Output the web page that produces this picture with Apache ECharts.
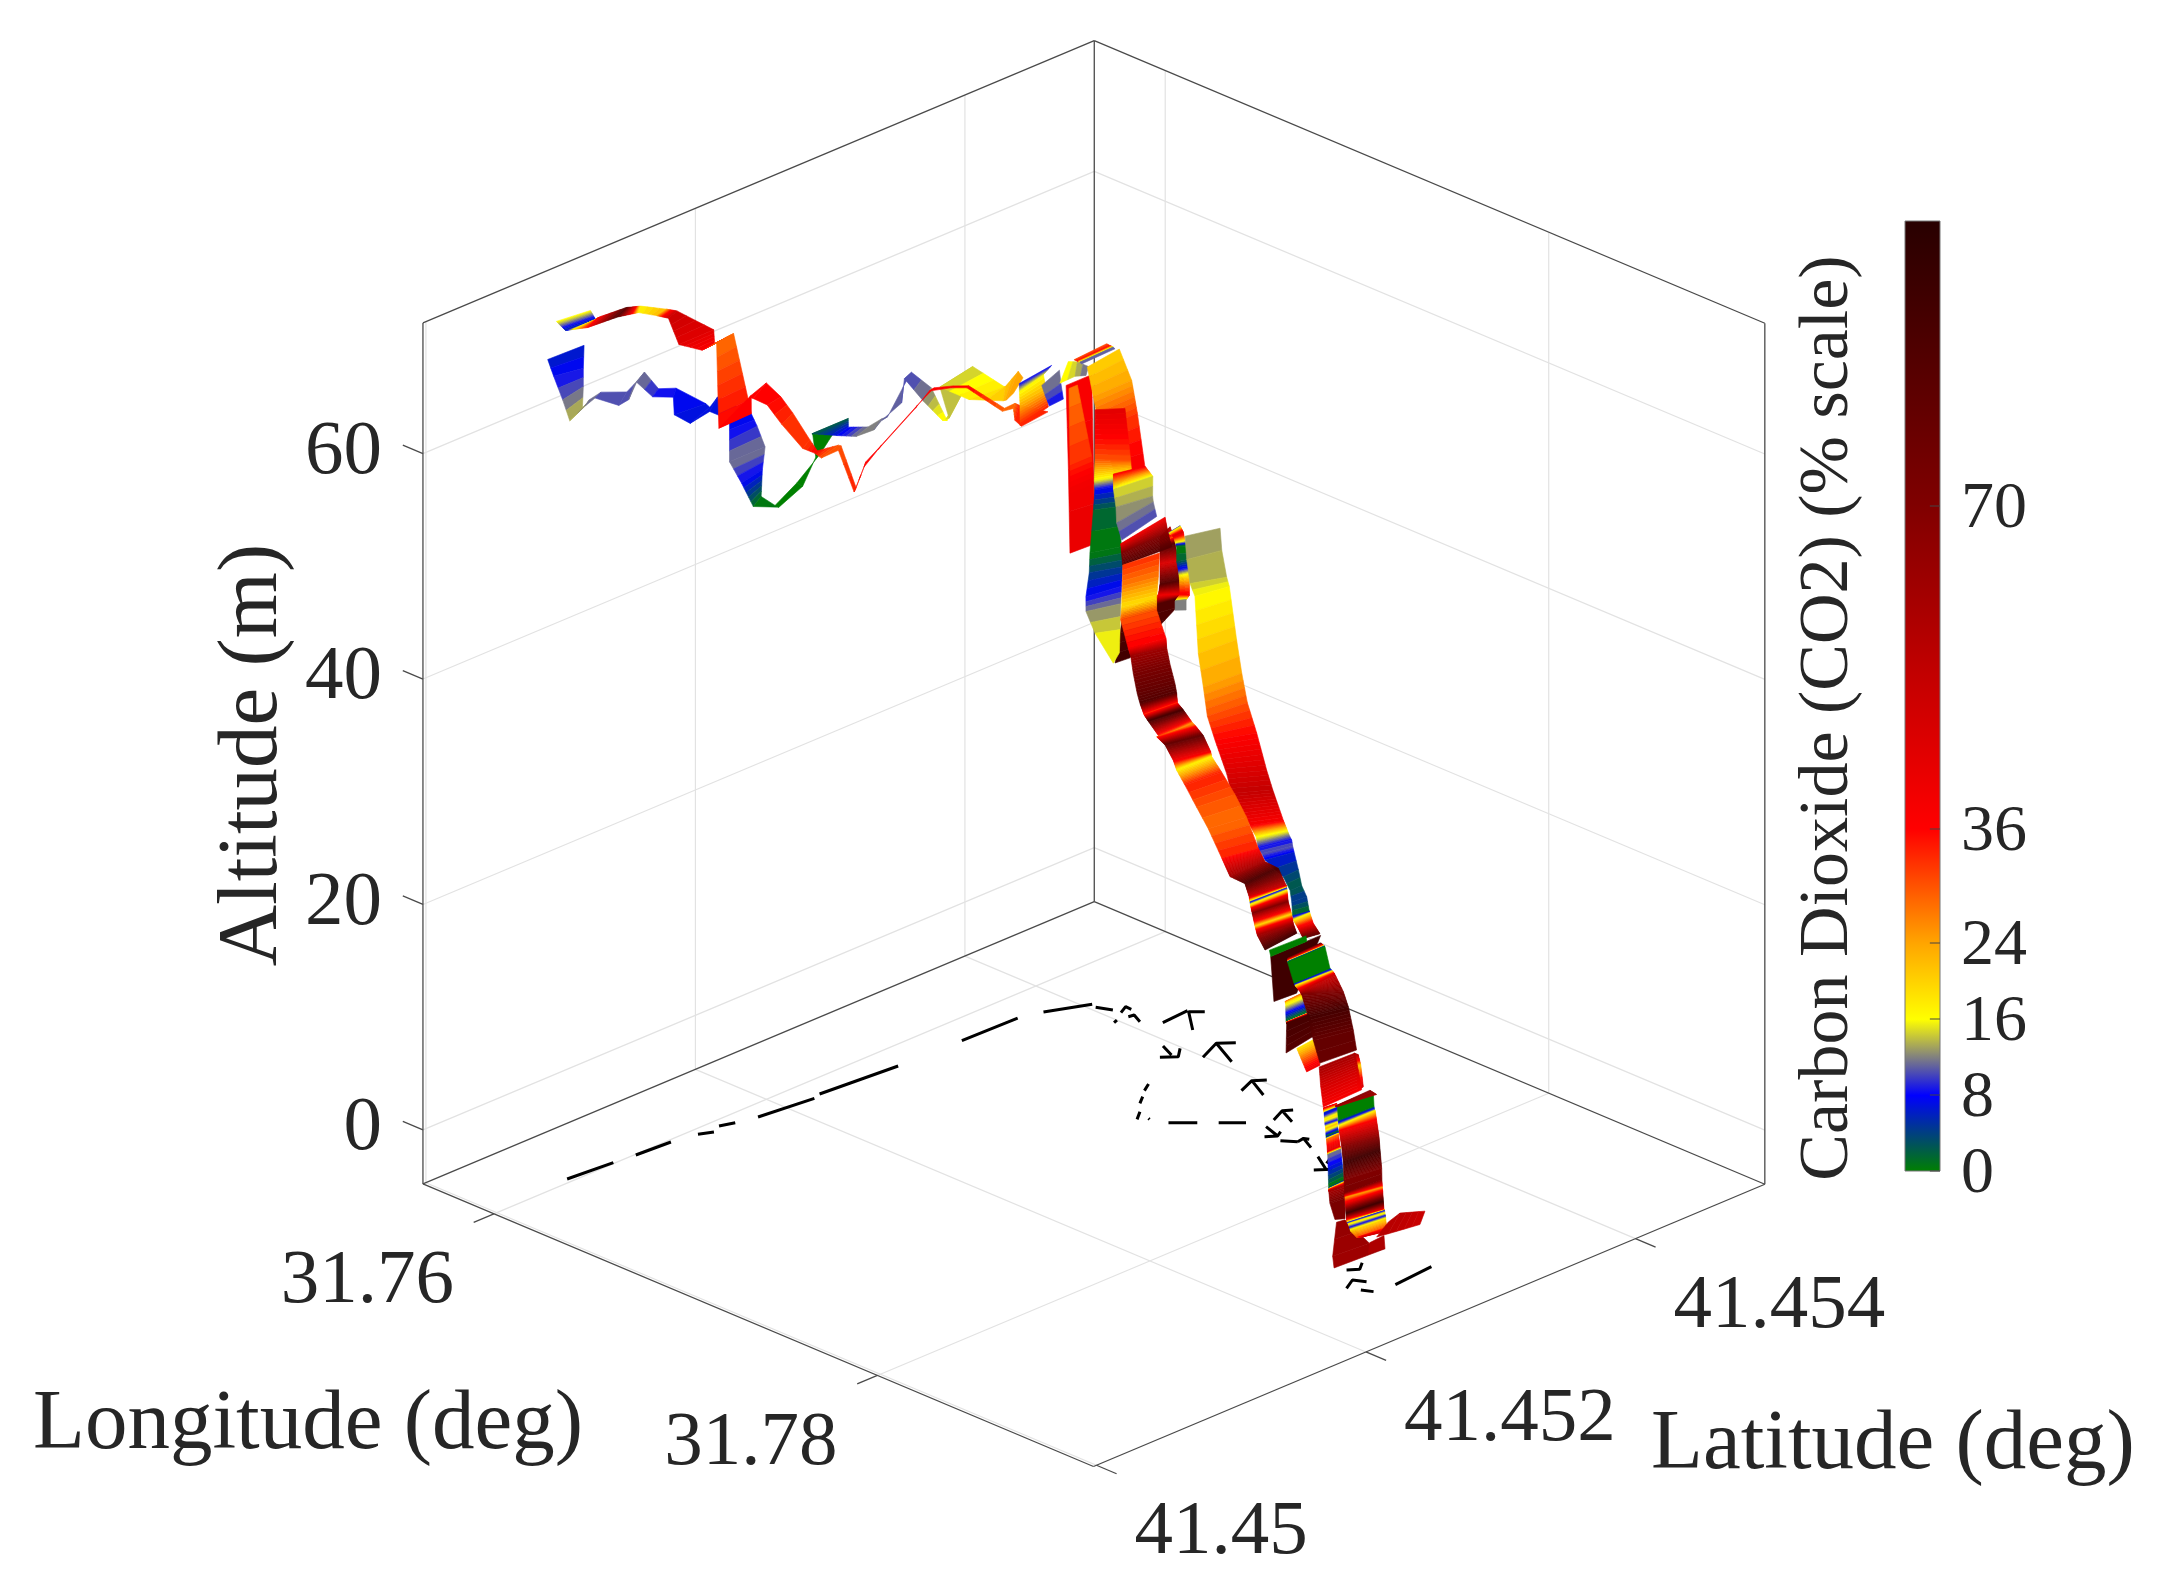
<!DOCTYPE html>
<html>
<head>
<meta charset="utf-8">
<style>html,body{margin:0;background:#fff}#main{width:2164px;height:1591px}</style>
<script src="https://cdn.jsdelivr.net/npm/echarts@6/dist/echarts.min.js"></script>
</head>
<body>
<div id="main"></div>
<script>
const lonRange = [31.7563, 31.79127]
const latRange = [41.449978, 41.45496]
const altRange = [-4.8, 71.6]
const altTicks = [0, 20, 40, 60]
const lonTicks = [31.76, 31.78]
const latTicks = [41.45, 41.452, 41.454]
const co2Ticks = [0, 8, 16, 24, 36, 70]
const co2Stops = [[0,'#008000'],[8,'#0000ff'],[12,'#808080'],[16,'#ffff00'],[24,'#ffa500'],[36,'#ff0000'],[70,'#800000'],[100,'#280000']]

// ribbon stations, null ends a strand. each station spans latA/altA to latB/altB at one longitude
const stationLon = [
  31.75965,31.75966,31.75968,31.75969,31.75974,31.75978,31.75988,31.75992,31.75995,31.76002,31.76009,31.76016,31.7602,31.76025,31.76036,31.76037,31.76039,31.76041,31.76043,31.76051,31.7606,31.76068,31.7607,31.76073,31.76078,31.76086,31.76092,31.76095,31.76102,31.76105,31.76113,31.7612,31.76125,31.76124,31.76137,31.76144,31.76147,31.76151,null,
  31.75968,31.75971,31.75976,31.75988,31.75995,31.76004,31.76009,31.76018,31.76023,31.7603,31.76034,31.7604,31.76044,31.7605,31.76055,31.76063,31.76067,31.76073,31.76077,31.76083,31.76087,31.76093,31.76108,31.76114,31.76123,31.76129,31.76144,31.76148,31.76149,31.76175,null,
  31.76174,31.76172,31.7617,31.76176,null,
  31.76198,31.76201,31.76206,null,
  31.76217,31.76235,31.76251,null,
  31.76255,31.76265,31.76274,31.7628,null,
  31.76261,31.76266,31.7627,null,
  31.76246,31.76266,31.76269,null,
  31.76265,31.76296,31.76317,31.76355,null,
  31.76607,31.77032,31.77197,31.77197,31.7719,31.7718,31.7717,31.77149,null,
  31.76445,31.76482,31.76484,31.76391,31.76385,31.76391,31.76393,31.76365,31.76359,31.76413,31.76527,null,
  31.76353,31.76366,31.7637,31.76372,31.76387,null,
  31.76505,31.76519,31.76529,31.76532,31.76536,31.7654,31.76541,31.76527,31.76527,null,
  31.76867,31.76894,31.76922,null,
  31.76695,31.76711,31.7675,31.76786,31.76836,31.76882,31.76926,31.77004,31.77103,31.77153,31.77281,31.77325,31.77339,31.77354,31.77373,31.77394,31.77506,31.77557,31.77591,31.77609,31.77616,31.77661,31.77729,null,
  31.76844,31.76835,31.7682,31.76814,31.76922,31.76941,31.76979,31.77036,31.77064,31.77094,31.77159,31.77209,31.77208,31.7723,31.77251,31.77257,31.77282,31.77315,31.77346,31.7738,31.77405,31.77488,31.77523,31.77528,31.77531,31.77539,31.77557,31.77569,31.77603,null,
  31.7772,31.77638,null,
  31.77657,31.77665,null,
  31.77701,31.77708,31.77725,31.77738,31.77758,null,
  31.77807,31.77859,null,
  31.78661,31.7867,31.78679,null,
  31.77642,31.77667,31.77733,31.77756,31.77797,31.77855,31.77963,31.78107,31.78251,null,
  31.78217,31.78285,31.78371,null,
  31.78272,31.78289,31.78297,31.78301,31.7831,31.78327,31.78339,31.78365,31.78378,31.78433,31.78446,31.78462,31.78526,null,
  31.78547,31.78699,31.78733,null,
  31.78802,31.78801,null,
  31.78658,31.78661,31.78662,31.78665,31.78668,31.78677,31.78683,31.78687,31.78689,31.7869,31.78692,31.78694,31.78697,31.78699,31.78702,31.78705,31.78708,31.78721,31.78734,null,
  31.78647,31.78663,null,
  31.78764,31.78809,31.7889,null
]
const stationLatA = [
  41.450427,41.45047,41.450534,41.450585,41.450693,41.45076,41.450922,41.45099,41.451044,41.451153,41.451297,41.451294,41.451406,41.451544,41.451675,41.451674,41.451671,41.451757,41.451842,41.452021,41.452184,41.45227,41.452244,41.452234,41.452409,41.452544,41.452667,41.452721,41.452858,41.452875,41.453005,41.453135,41.453178,41.453111,41.453308,41.453553,41.453572,41.453619,null,
  41.450487,41.45055,41.45071,41.450908,41.451059,41.451178,41.45126,41.451325,41.451489,41.451588,41.451599,41.451816,41.45184,41.451935,41.452036,41.45218,41.452262,41.452304,41.452425,41.452533,41.452601,41.452695,41.452952,41.453046,41.453196,41.453304,41.453547,41.453623,41.453633,41.453644,null,
  41.453635,41.453637,41.453636,41.453627,null,
  41.453762,41.453781,41.453807,null,
  41.45387,41.453956,41.454015,null,
  41.45392,41.453931,41.453937,41.453941,null,
  41.453853,41.453863,41.453869,null,
  41.453896,41.453875,41.453876,null,
  41.454005,41.454005,41.454025,41.454081,null,
  41.453724,41.45318,41.453206,41.453218,41.453228,41.453242,41.453257,41.453287,null,
  41.453806,41.453753,41.453745,41.453882,41.453879,41.453845,41.453837,41.453852,41.453861,41.453852,41.453825,null,
  41.454073,41.454055,41.454068,41.45407,41.454087,null,
  41.454264,41.454281,41.454292,41.454288,41.454294,41.454297,41.4543,41.454283,41.454283,null,
  41.453396,41.453364,41.453332,null,
  41.454118,41.454108,41.454077,41.454062,41.454016,41.453988,41.453955,41.453901,41.453847,41.453812,41.453767,41.453749,41.453738,41.453724,41.453722,41.453717,41.453694,41.453671,41.453635,41.453615,41.453611,41.453584,41.453524,null,
  41.453444,41.453453,41.45347,41.453471,41.453374,41.453365,41.45333,41.453278,41.453259,41.453246,41.453185,41.453201,41.453178,41.453208,41.45324,41.453256,41.453283,41.453322,41.453364,41.453415,41.453441,41.453434,41.453415,41.453415,41.453415,41.453416,41.453411,41.453411,41.45342,null,
  41.453295,41.453436,null,
  41.453375,41.453374,null,
  41.453428,41.453423,41.453402,41.453388,41.453355,null,
  41.453365,41.453364,null,
  41.452574,41.452577,41.45258,null,
  41.453532,41.453496,41.45345,41.453426,41.453403,41.453333,41.453229,41.453061,41.452905,null,
  41.452948,41.452862,41.452759,null,
  41.452901,41.452882,41.452875,41.452871,41.452864,41.452842,41.452829,41.452798,41.452782,41.452711,41.452693,41.452679,41.452625,null,
  41.452607,41.452362,41.452324,null,
  41.452492,41.452482,null,
  41.452455,41.452458,41.452459,41.452457,41.452455,41.45246,41.452465,41.452463,41.452465,41.452466,41.452466,41.452468,41.452469,41.45247,41.452474,41.452478,41.452482,41.452508,41.452539,null,
  41.452454,41.452443,null,
  41.452596,41.452618,41.452738,null
]
const stationAltA = [
  68.5,66.8,64.4,62.3,63.1,63.5,62.1,62.3,63.6,61.8,61.1,59.6,58.3,58.7,57.4,55.6,53.7,51.4,48.9,48.0,49.1,51.3,53.5,53.6,52.6,51.9,51.9,52.5,53.4,55.5,52.9,50.6,50.6,53.7,51.7,50.4,50.4,50.8,null,
  71.6,70.5,70.0,70.0,69.7,68.9,68.3,65.7,64.4,64.6,57.0,58.7,58.5,57.5,55.3,52.5,51.7,51.1,51.2,47.0,48.9,50.0,52.5,53.6,53.2,52.7,49.5,49.4,48.3,47.9,null,
  48.0,50.0,51.0,51.8,null,
  51.1,50.2,49.1,null,
  50.9,51.2,51.1,null,
  53.0,52.9,52.8,52.7,null,
  51.1,43.6,36.2,null,
  50.5,43.9,41.5,null,
  52.0,49.6,46.7,42.8,null,
  29.6,39.8,42.5,43.4,45.1,46.5,46.7,46.9,null,
  50.5,46.6,44.8,42.6,40.8,37.2,35.5,33.1,31.7,30.2,28.5,null,
  42.8,41.6,40.0,38.6,37.1,null,
  37.7,37.4,36.5,35.2,34.5,33.7,32.3,31.7,30.9,null,
  43.7,43.2,42.5,null,
  39.5,37.6,35.9,35.1,30.6,28.1,26.0,24.7,22.7,21.5,19.8,19.2,18.8,18.5,18.2,17.8,17.2,16.5,15.9,15.0,14.6,14.3,14.2,null,
  41.4,39.4,37.4,36.2,34.9,34.4,33.3,32.2,31.6,30.9,31.1,29.9,30.1,29.4,28.0,27.1,25.8,23.9,22.0,19.4,17.8,17.8,17.0,16.5,16.2,15.6,14.6,13.9,12.8,null,
  13.7,8.4,null,
  13.4,12.9,null,
  8.9,8.8,7.4,7.4,5.1,null,
  5.8,4.1,null,
  15.5,14.3,12.3,null,
  11.8,11.8,10.6,10.7,10.6,11.1,10.4,10.2,10.0,null,
  9.2,8.4,7.7,null,
  6.2,5.9,5.4,5.1,4.8,4.3,4.2,3.5,3.4,1.2,1.1,0.2,-0.5,null,
  -0.5,-1.2,-1.8,null,
  0.1,-0.8,null,
  11.4,10.1,9.9,9.6,9.2,7.9,6.4,5.0,3.8,3.4,2.9,2.0,1.5,1.2,1.1,0.8,0.5,-0.1,-0.1,null,
  11.3,11.4,null,
  -0.2,0.3,1.1,null
]
const stationLatB = [
  41.450697,41.45069,41.450687,41.450679,41.450723,41.450804,41.450981,41.451034,41.451103,41.451197,41.451317,41.451529,41.451552,41.451603,41.451837,41.451879,41.451935,41.451912,41.4519,41.451992,41.45214,41.4523,41.452391,41.452504,41.452497,41.452632,41.452725,41.452765,41.452872,41.452928,41.453063,41.453171,41.453304,41.453355,41.453572,41.45357,41.45366,41.45369,null,
  41.45074,41.450776,41.450792,41.450981,41.451074,41.451252,41.451325,41.451584,41.451583,41.451714,41.45184,41.451831,41.451937,41.452037,41.452118,41.452233,41.452283,41.45243,41.452445,41.452548,41.452615,41.452724,41.452967,41.453084,41.45321,41.453319,41.453562,41.453635,41.453663,41.453841,null,
  41.453845,41.45383,41.453814,41.453867,null,
  41.453893,41.4539,41.453911,null,
  41.453932,41.453974,41.454033,null,
  41.454162,41.454178,41.454185,41.454189,null,
  41.454043,41.454048,41.454054,null,
  41.453958,41.454036,41.454044,null,
  41.454242,41.45429,41.454302,41.454304,null,
  41.453835,41.453663,41.453404,41.453392,41.453364,41.453353,41.453356,41.453361,null,
  41.454028,41.454018,41.454022,41.454043,41.454057,41.45408,41.454084,41.454117,41.454119,41.454037,41.45387,null,
  41.454308,41.454347,41.45434,41.454342,41.454346,null,
  41.454351,41.454356,41.454361,41.454368,41.454369,41.454371,41.45437,41.454365,41.454365,null,
  41.453725,41.45371,41.453696,null,
  41.454378,41.454368,41.454349,41.454317,41.4543,41.454273,41.454252,41.45421,41.454144,41.454117,41.454014,41.453981,41.453975,41.453972,41.453952,41.453933,41.453805,41.453757,41.453746,41.453739,41.453734,41.453695,41.453648,null,
  41.453716,41.453721,41.453729,41.453738,41.453654,41.453632,41.453602,41.453558,41.453531,41.453494,41.453445,41.453443,41.453462,41.453492,41.453517,41.453516,41.453555,41.453606,41.453648,41.453687,41.453701,41.453682,41.45369,41.453688,41.453687,41.453683,41.453683,41.453678,41.453655,null,
  41.453666,41.453604,null,
  41.453647,41.453641,null,
  41.453552,41.45355,41.453555,41.453556,41.45357,null,
  41.453513,41.453463,null,
  41.452606,41.452612,41.452618,null,
  41.453777,41.453773,41.453717,41.453703,41.453663,41.453642,41.453526,41.453358,41.453177,null,
  41.453213,41.453142,41.453044,null,
  41.453,41.452981,41.452969,41.452963,41.45295,41.452934,41.452918,41.452892,41.452879,41.452825,41.452814,41.45279,41.4527,null,
  41.452669,41.452634,41.452703,null,
  41.452596,41.452605,null,
  41.452722,41.452723,41.452723,41.452727,41.452732,41.452737,41.452737,41.452743,41.452742,41.452743,41.452744,41.452745,41.452746,41.452747,41.452746,41.452745,41.452744,41.452731,41.452712,null,
  41.452713,41.45274,null,
  41.452683,41.452705,41.452775,null
]
const stationAltB = [
  68.4,66.4,64.8,62.9,63.5,63.8,63.0,63.5,64.2,62.3,61.8,59.4,59.0,59.7,57.1,55.8,53.7,51.8,49.5,48.3,49.6,51.4,52.7,53.6,52.9,52.3,52.6,52.6,54.8,55.8,53.8,50.4,52.8,54.3,51.5,51.6,52.5,51.8,null,
  71.3,70.3,70.5,70.5,70.2,69.1,68.6,65.7,64.5,64.8,57.1,58.8,59.4,57.7,55.9,53.0,51.8,51.6,51.5,47.3,49.3,50.3,52.7,53.7,53.3,52.8,49.7,49.8,49.5,48.2,null,
  48.6,50.3,51.6,52.2,null,
  51.8,50.6,49.2,null,
  52.5,52.4,51.8,null,
  53.2,53.0,52.9,52.8,null,
  51.1,43.2,36.1,null,
  50.5,43.9,41.5,null,
  52.4,49.6,46.8,42.3,null,
  29.5,39.0,41.6,42.9,44.7,46.2,46.7,47.4,null,
  49.5,45.2,44.0,42.1,40.2,36.6,34.8,32.7,31.1,29.6,29.2,null,
  42.3,41.3,39.6,39.1,37.9,null,
  37.9,37.4,36.2,35.0,34.3,33.5,31.9,31.4,30.5,null,
  44.4,43.2,42.3,null,
  38.9,37.1,35.1,34.7,30.4,27.9,25.7,23.8,21.5,20.3,19.0,18.6,18.3,18.0,17.7,17.4,17.3,16.5,15.8,14.7,14.6,14.2,14.0,null,
  41.1,38.9,36.8,35.7,34.4,33.8,32.8,31.7,31.2,30.7,30.8,30.0,29.7,28.8,27.4,27.0,25.6,23.6,21.6,18.9,17.8,17.9,16.6,16.4,16.1,15.3,14.3,13.6,13.1,null,
  13.7,8.3,null,
  13.3,12.9,null,
  9.0,8.8,7.4,7.3,5.6,null,
  6.0,4.2,null,
  15.2,14.3,12.4,null,
  11.9,11.8,10.6,10.6,10.8,9.8,9.8,9.6,9.8,null,
  9.1,8.4,7.8,null,
  6.1,5.9,5.4,5.0,4.8,4.3,4.2,3.5,3.4,1.3,1.0,0.1,-0.8,null,
  -0.6,-1.4,-2.0,null,
  0.2,-1.0,null,
  11.2,10.0,9.8,9.6,8.8,7.4,6.2,4.6,3.6,2.9,2.6,1.7,1.0,0.9,0.7,0.5,0.2,-0.3,-0.5,null,
  11.4,11.0,null,
  0.7,1.7,2.1,null
]
const stationCO2 = [
  6,8,11,14,12,11,10,11,12,9,8,7,7,7,7,9,12,8,1,0,0,0,0,2,7,12,12,11,11,10,12,17,14,14,18,21,24,24,null,
  17,5,36,85,17,22,50,44,38,28,36,37,36,36,33,32,36,30,30,34,36,36,36,37,36,36,29,28,33,34,null,
  34,22,16,8,null,
  12,11,8,null,
  17,14,11,null,
  30,36,11,11,null,
  37,39,42,null,
  27,33,40,null,
  20,24,32,38,null,
  92,85,40,85,45,85,30,60,null,
  44,30,16,8,2,0,4,8,12,15,16,null,
  38,15,13,12,10,null,
  10,45,0,2,8,20,38,12,12,null,
  38,70,85,null,
  13,13,14,16,21,24,30,36,46,52,38,17,12,8,11,7,4,2,5,1,16,40,80,null,
  33,27,19,30,37,62,72,80,85,32,90,25,30,80,40,17,34,30,28,34,60,88,50,8,22,70,19,60,92,null,
  92,92,null,
  0,0,null,
  30,18,0,90,85,null,
  18,40,null,
  60,20,48,null,
  85,0,0,16,50,70,90,80,78,null,
  60,48,38,null,
  45,5,19,8,22,0,28,45,12,0,60,72,72,null,
  65,62,62,null,
  58,58,null,
  0,0,8,18,38,66,92,70,72,24,40,92,40,8,18,8,20,30,48,null,
  70,60,null,
  55,55,50,null
]
// ground track marks on the floor of the box
const floorLon = [
  31.75975,31.75994,null,31.76005,31.76016,null,31.76039,31.76066,null,31.76042,31.76064,null,31.76088,31.76119,null,31.76106,31.76137,null,31.76146,31.76151,null,31.76181,31.7626,null,31.76288,31.76349,null,
  31.76431,31.76422,null,31.76387,31.76362,31.76393,null,31.76431,31.76436,31.76492,null,31.76558,31.76548,null,31.76599,31.76557,31.76681,null,31.76703,31.76781,null,31.76765,31.76809,31.76762,null,31.76877,31.76825,31.76872,null,31.76825,31.76979,null,
  31.77184,31.77149,31.77184,null,31.77149,31.77268,null,31.7745,31.77414,31.77438,null,31.77414,31.77508,null,31.77471,31.7755,null,31.77529,31.77559,31.7754,null,31.77595,31.77647,null,31.77647,31.77641,31.77662,null,31.77641,31.77718,null,
  31.77792,31.77897,null,31.77864,31.77908,null,31.77856,31.77842,null,31.76901,31.76931,null,31.76964,31.76998,null,31.7705,31.7709,null,31.77113,31.77122,null,31.77192,31.77267,null,31.77323,31.77394,null,
  31.78569,31.78599,31.78564,null,31.78682,31.78646,31.78693,null,31.7873,31.78773,null,31.78787,31.78769,null
]
const floorLat = [
  41.450557,41.450873,null,41.451024,41.451269,null,41.451437,41.451517,null,41.451589,41.451678,null,41.451813,41.452187,null,41.452244,41.452783,null,41.453243,41.45365,null,41.453799,41.454048,null,41.454034,41.454075,null,
  41.453967,41.454001,null,41.454081,41.454151,41.454149,null,41.454073,41.454109,41.454072,null,41.454148,41.454346,null,41.454401,41.454341,41.454195,null,41.453943,41.453895,null,41.453832,41.453906,41.453986,null,41.453992,41.454165,41.454243,null,41.454165,41.45406,null,
  41.453841,41.453968,41.454029,null,41.453968,41.453884,null,41.453702,41.453816,41.453863,null,41.453816,41.453755,null,41.453615,41.45358,null,41.453521,41.453576,41.453625,null,41.453545,41.4536,null,41.4536,41.453651,41.453664,null,41.453651,41.453597,null,
  41.453543,41.453457,null,41.45341,41.453485,null,41.453516,41.453556,null,41.453554,41.453481,null,41.453421,41.453352,null,41.453278,41.4532,null,41.453252,41.453247,null,41.453288,41.453395,null,41.453474,41.453576,null,
  41.45265,41.452705,41.452773,null,41.452489,41.452584,41.452622,null,41.452527,41.45256,null,41.452702,41.452995,null
]

// orthographic view of the box, scales in px per degree / metre
function project (lon, lat, alt) {
  const a = lon - lonRange[1], b = lat - latRange[0], c = alt - altRange[0]
  return [1093.5 + a * 19175 + b * 134750, 1466.5 + a * 8080 - b * 56650 - c * 11.27]
}

function co2Color (v) {
  let i = 1
  while (i < co2Stops.length - 1 && v > co2Stops[i][0]) i++
  const a = co2Stops[i - 1], b = co2Stops[i], t = (v - a[0]) / (b[0] - a[0])
  return echarts.color.lerp(Math.max(0, Math.min(1, t)), [a[1], b[1]])
}

// cut every ribbon segment into thin quads so the colour runs along it
const slices = []
for (let i = 0; i + 1 < stationLon.length; i++) {
  if (stationLon[i] === null || stationLon[i + 1] === null) continue
  const pa0 = project(stationLon[i], stationLatA[i], stationAltA[i]), pb0 = project(stationLon[i], stationLatB[i], stationAltB[i])
  const pa1 = project(stationLon[i + 1], stationLatA[i + 1], stationAltA[i + 1]), pb1 = project(stationLon[i + 1], stationLatB[i + 1], stationAltB[i + 1])
  const n = Math.max(1, Math.min(24, Math.ceil(Math.abs(stationCO2[i + 1] - stationCO2[i]) / 1.5)))
  const L = (p, q, t) => [p[0] + (q[0] - p[0]) * t, p[1] + (q[1] - p[1]) * t]
  for (let k = 0; k < n; k++) {
    const t0 = k / n, t1 = (k + 1) / n
    slices.push({
      pts: [L(pa0, pa1, t0), L(pb0, pb1, t0), L(pb0, pb1, t1), L(pa0, pa1, t1)],
      c: co2Color(stationCO2[i] + (stationCO2[i + 1] - stationCO2[i]) * (t0 + t1) / 2)
    })
  }
}

const gridSegs = [], darkSegs = [], tickSegs = []
const [lo0, lo1] = lonRange, [la0, la1] = latRange, [al0, al1] = altRange
altTicks.forEach(z => {
  gridSegs.push([[lo0, la0, z], [lo0, la1, z]], [[lo0, la1, z], [lo1, la1, z]])
  tickSegs.push([[lo0, la0, z], [lo0 - 0.00105, la0, z]])
})
lonTicks.forEach(v => {
  gridSegs.push([[v, la1, al0], [v, la1, al1]], [[v, la0, al0], [v, la1, al0]])
  tickSegs.push([[v, la0, al0], [v, la0 - 0.00015, al0]])
})
latTicks.forEach(v => {
  gridSegs.push([[lo0, v, al0], [lo0, v, al1]], [[lo0, v, al0], [lo1, v, al0]])
  tickSegs.push([[lo1, v, al0], [lo1 + 0.00105, v, al0]])
})
darkSegs.push([[lo0, la0, al0], [lo0, la0, al1]], [[lo0, la1, al0], [lo0, la1, al1]], [[lo1, la1, al0], [lo1, la1, al1]],
  [[lo0, la0, al1], [lo0, la1, al1]], [[lo0, la1, al1], [lo1, la1, al1]],
  [[lo0, la0, al0], [lo0, la1, al0]], [[lo0, la1, al0], [lo1, la1, al0]],
  [[lo0, la0, al0], [lo1, la0, al0]], [[lo1, la0, al0], [lo1, la1, al0]])

function segSeries (segs, color, width, z) {
  return {
    type: 'custom', xAxisIndex: 0, yAxisIndex: 0, silent: true, clip: false, z,
    data: segs.map((s, i) => [i]),
    renderItem: (p, api) => {
      const s = segs[api.value(0)]
      const a = api.coord(project(...s[0])), b = api.coord(project(...s[1]))
      return { type: 'line', shape: { x1: a[0], y1: a[1], x2: b[0], y2: b[1] }, style: { stroke: color, lineWidth: width } }
    }
  }
}
const floorData = floorLon.map((v, i) => v === null ? [null, null] : project(v, floorLat[i], al0))

const tickLabels = []
altTicks.forEach(z => { const p = project(lo0, la0, z); tickLabels.push({ x: p[0] - 41, y: p[1] - 1, t: String(z), a: 'right' }) })
lonTicks.forEach(v => { const p = project(v, la0, al0); tickLabels.push({ x: p[0] - 40, y: p[1] + 68, t: String(v), a: 'right' }) })
latTicks.forEach(v => { const p = project(lo1, v, al0); tickLabels.push({ x: p[0] + 38, y: p[1] + 68, t: String(v), a: 'left' }) })

const font = size => size + 'px "Liberation Serif"'

const option = {
  animation: false,
  backgroundColor: '#fff',
  grid: [
    { left: 0, top: 0, width: 2164, height: 1591 },
    { left: 1905, top: 221, width: 35, height: 950 }
  ],
  xAxis: [
    { type: 'value', min: 0, max: 2164, show: false, gridIndex: 0 },
    { type: 'value', min: 0, max: 1, show: false, gridIndex: 1 }
  ],
  yAxis: [
    { type: 'value', min: 0, max: 1591, inverse: true, show: false, gridIndex: 0 },
    { type: 'value', min: 0, max: 100, show: false, gridIndex: 1 }
  ],
  series: [
    segSeries(gridSegs, '#e2e2e2', 1.2, 1),
    segSeries(darkSegs, '#4a4a4a', 1.3, 2),
    segSeries(tickSegs, '#4a4a4a', 1.3, 2),
    {
      type: 'line', xAxisIndex: 0, yAxisIndex: 0, data: floorData, z: 3, symbol: 'none', silent: true,
      connectNulls: false, lineStyle: { color: '#000', width: 3 }
    },
    {
      type: 'custom', xAxisIndex: 0, yAxisIndex: 0, silent: true, clip: false, z: 4,
      data: slices.map((s, i) => [i]),
      renderItem: (p, api) => {
        const s = slices[api.value(0)]
        return { type: 'polygon', shape: { points: s.pts.map(q => api.coord(q)) }, style: { fill: s.c, stroke: s.c, lineWidth: 0.6 } }
      }
    },
    {
      type: 'custom', xAxisIndex: 0, yAxisIndex: 0, silent: true, clip: false, z: 5,
      data: tickLabels.map((s, i) => [i]),
      renderItem: (p, api) => {
        const s = tickLabels[api.value(0)], c = api.coord([s.x, s.y])
        return { type: 'text', style: { x: c[0], y: c[1], text: s.t, align: s.a, verticalAlign: 'middle', fill: '#262626', font: font(77) } }
      }
    },
    // colour bar
    {
      type: 'custom', xAxisIndex: 1, yAxisIndex: 1, silent: true, clip: false, z: 2,
      data: [[0]],
      renderItem: (p, api) => {
        const a = api.coord([0, 100]), b = api.coord([1, 0])
        return {
          type: 'rect', shape: { x: a[0], y: a[1], width: b[0] - a[0], height: b[1] - a[1] },
          style: { fill: new echarts.graphic.LinearGradient(0, 1, 0, 0, co2Stops.map(s => ({ offset: s[0] / 100, color: s[1] }))), stroke: '#777', lineWidth: 1 }
        }
      }
    },
    {
      type: 'custom', xAxisIndex: 1, yAxisIndex: 1, silent: true, clip: false, z: 3,
      data: co2Ticks.map(v => [v]),
      renderItem: (p, api) => {
        const a = api.coord([0.71, api.value(0)]), b = api.coord([1, api.value(0)])
        return {
          type: 'group',
          children: [
            { type: 'line', shape: { x1: a[0], y1: a[1], x2: b[0], y2: b[1] }, style: { stroke: '#444', lineWidth: 1 } },
            { type: 'text', style: { x: b[0] + 21, y: b[1] + 4, text: String(api.value(0)), align: 'left', verticalAlign: 'middle', fill: '#262626', font: font(66) } }
          ]
        }
      }
    }
  ],
  graphic: [
    { type: 'text', x: 254, y: 755, rotation: Math.PI / 2, style: { text: 'Altitude (m)', align: 'center', verticalAlign: 'middle', fill: '#262626', font: font(85) } },
    { type: 'text', x: 308, y: 1426, style: { text: 'Longitude (deg)', align: 'center', verticalAlign: 'middle', fill: '#262626', font: font(85) } },
    { type: 'text', x: 1893, y: 1446, style: { text: 'Latitude (deg)', align: 'center', verticalAlign: 'middle', fill: '#262626', font: font(85) } },
    { type: 'text', x: 1829, y: 718, rotation: Math.PI / 2, style: { text: 'Carbon Dioxide (CO2) (% scale)', align: 'center', verticalAlign: 'middle', fill: '#262626', font: font(70) } }
  ]
}
const myChart = echarts.init(document.getElementById('main'))
myChart.setOption(option)
</script>
</body>
</html>
